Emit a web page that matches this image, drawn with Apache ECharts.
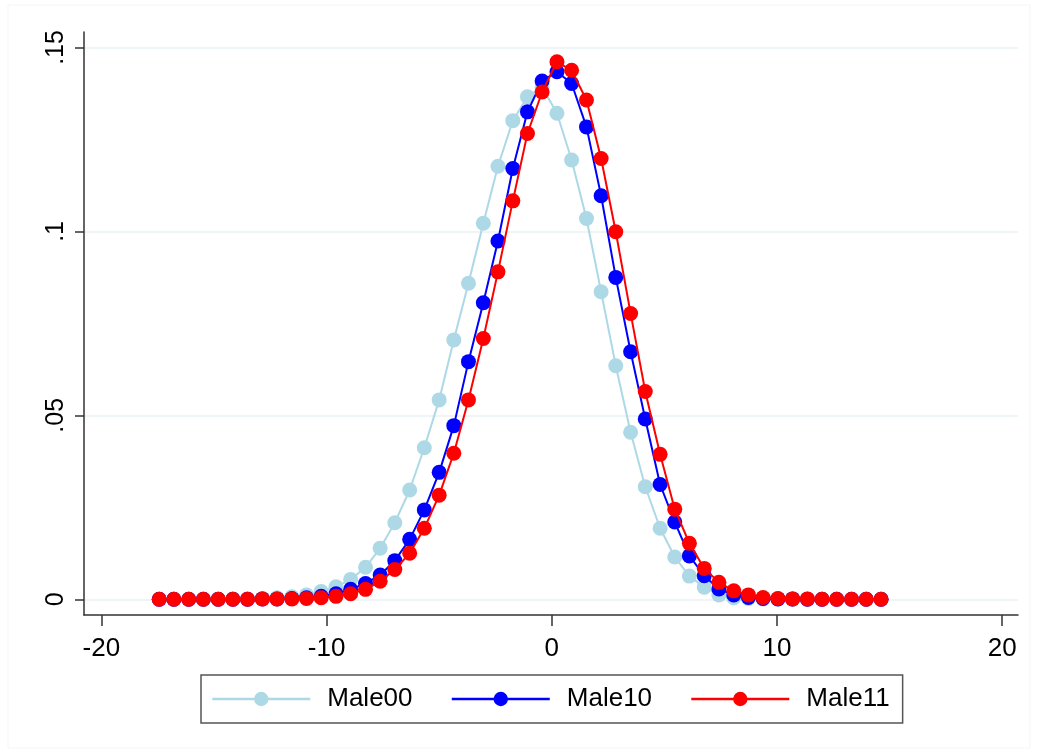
<!DOCTYPE html>
<html>
<head>
<meta charset="utf-8">
<script src="https://cdn.jsdelivr.net/npm/echarts@6/dist/echarts.min.js"></script>
<style>
  html, body { margin: 0; padding: 0; background: #fff; }
  #chart { width: 1037px; height: 755px; }
</style>
</head>
<body>
<div id="chart"></div>
<script>
// Evaluation points (x) shared by all three density estimates
var xValues = [-17.43, -16.78, -16.12, -15.47, -14.81, -14.16, -13.51, -12.85, -12.20, -11.54,
  -10.89, -10.24, -9.58, -8.93, -8.27, -7.62, -6.97, -6.31, -5.66, -5.00,
  -4.35, -3.70, -3.04, -2.39, -1.73, -1.08, -0.43, 0.23, 0.88, 1.54,
  2.19, 2.84, 3.50, 4.15, 4.81, 5.46, 6.11, 6.77, 7.42, 8.08,
  8.73, 9.38, 10.04, 10.69, 11.35, 12.00, 12.65, 13.31, 13.96, 14.62];

var male00 = [0, 0, 0, 0, 0, 0.0001, 0.0001, 0.0002, 0.0004, 0.0007,
  0.0012, 0.0021, 0.0034, 0.0054, 0.0087, 0.0139, 0.0208, 0.0297, 0.0412, 0.0542,
  0.0705, 0.0859, 0.1022, 0.1177, 0.1301, 0.1366, 0.1392, 0.1321, 0.1194, 0.1035,
  0.0836, 0.0635, 0.0454, 0.0306, 0.0193, 0.0115, 0.0063, 0.0033, 0.0012, 0.0004,
  0.0002, 0.0001, 0.0001, 0, 0, 0, 0, 0, 0, 0];

var male10 = [0, 0, 0, 0, 0, 0, 0, 0.0001, 0.0001, 0.0002,
  0.0004, 0.0008, 0.0015, 0.0027, 0.0043, 0.0066, 0.0105, 0.0163, 0.0243, 0.0345,
  0.0472, 0.0646, 0.0806, 0.0974, 0.1171, 0.1325, 0.1409, 0.1434, 0.1402, 0.1284,
  0.1097, 0.0875, 0.0673, 0.0490, 0.0312, 0.0210, 0.0118, 0.0064, 0.0028, 0.0012,
  0.0005, 0.0002, 0.0001, 0.0001, 0, 0, 0, 0, 0, 0];

var male11 = [0, 0, 0, 0, 0, 0, 0, 0.0001, 0.0001, 0.0001,
  0.0002, 0.0004, 0.0008, 0.0015, 0.0027, 0.0049, 0.0081, 0.0125, 0.0193, 0.0283,
  0.0397, 0.0542, 0.0709, 0.0890, 0.1083, 0.1266, 0.1379, 0.1461, 0.1438, 0.1357,
  0.1198, 0.0999, 0.0777, 0.0565, 0.0394, 0.0245, 0.0152, 0.0084, 0.0046, 0.0023,
  0.0012, 0.0005, 0.0002, 0.0001, 0.0001, 0, 0, 0, 0, 0];

var seriesNames = ['Male00', 'Male10', 'Male11'];
var seriesColors = ['#add8e6', '#0000ff', '#ff0000'];

var xTickValues = [-20, -10, 0, 10, 20];
var xTickLabels = ['-20', '-10', '0', '10', '20'];
var yTickValues = [0, 0.05, 0.1, 0.15];
var yTickLabels = ['0', '.05', '.1', '.15'];

function pairs(ys) {
  return xValues.map(function (x, i) { return [x, ys[i]]; });
}
var allSeries = [male00, male10, male11];

var chart = echarts.init(document.getElementById('chart'), null, { renderer: 'canvas' });
var font = 'Liberation Sans, Arial, sans-serif';

chart.setOption({
  animation: false,
  backgroundColor: '#ffffff',
  graphic: [{
    type: 'rect',
    shape: { x: 8, y: 5, width: 1022, height: 743 },
    style: { fill: 'none', stroke: '#f5f5f5', lineWidth: 1 },
    silent: true,
    z: -10
  }],
  grid: { left: 84, right: 19, top: 32, bottom: 140, containLabel: false },
  legend: {
    data: seriesNames,
    left: 201,
    top: 675,
    orient: 'horizontal',
    itemWidth: 98,
    itemHeight: 18,
    itemGap: 38,
    padding: [11, 13, 11, 10],
    borderColor: '#555555',
    borderWidth: 1.5,
    lineStyle: { width: 2.5 },
    textStyle: { fontFamily: font, fontSize: 26, color: '#000', padding: [0, 0, 0, 12] }
  },
  xAxis: {
    type: 'value',
    min: -20.77,
    max: 20.70,
    axisLine: { onZero: false, lineStyle: { color: '#333', width: 1.5 } },
    axisTick: { show: true, length: 11, customValues: xTickValues, lineStyle: { color: '#333', width: 1.5 } },
    axisLabel: {
      customValues: xTickValues,
      margin: 21,
      fontFamily: font, fontSize: 26, color: '#000',
      formatter: function (v) { var i = xTickValues.indexOf(v); return i >= 0 ? xTickLabels[i] : ''; }
    },
    splitLine: { show: false }
  },
  yAxis: {
    type: 'value',
    min: -0.00427,
    max: 0.1542,
    axisLine: { show: true, onZero: false, lineStyle: { color: '#333', width: 1.5 } },
    axisTick: { show: true, length: 9, customValues: yTickValues, lineStyle: { color: '#333', width: 1.5 } },
    axisLabel: {
      customValues: yTickValues,
      rotate: 90,
      margin: 15,
      fontFamily: font, fontSize: 25, color: '#000',
      formatter: function (v) {
        for (var i = 0; i < yTickValues.length; i++) {
          if (Math.abs(yTickValues[i] - v) < 1e-9) return yTickLabels[i];
        }
        return '';
      }
    },
    splitLine: { show: true, lineStyle: { color: '#eaf2f3', width: 1.5 } }
  },
  series: seriesNames.map(function (name, k) {
    return {
      name: name,
      type: 'line',
      data: pairs(allSeries[k]),
      symbol: 'circle',
      symbolSize: 15,
      showAllSymbol: true,
      color: seriesColors[k],
      lineStyle: { color: seriesColors[k], width: 2 },
      itemStyle: { color: seriesColors[k] },
      z: 2 + k
    };
  })
});
</script>
</body>
</html>
